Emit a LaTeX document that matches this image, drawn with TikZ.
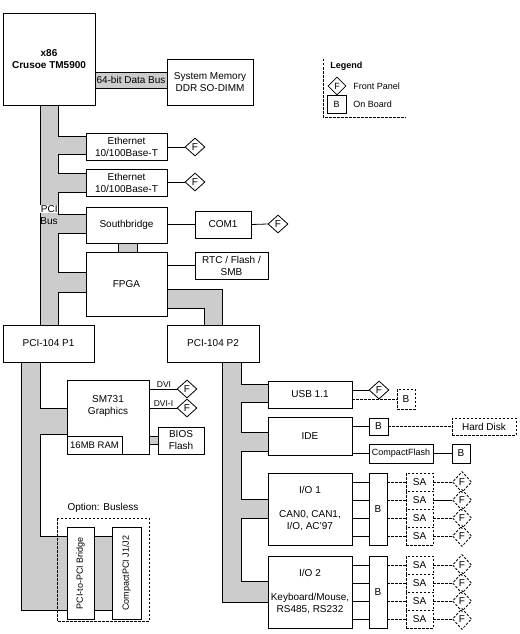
\documentclass[tikz,border=0pt]{standalone}
\usepackage{fontspec}
\setmainfont{Liberation Sans}
\usetikzlibrary{shapes.geometric}
\definecolor{busgray}{RGB}{204,204,204}
\newcommand\mybox[7][box]{\node[#1, minimum width={#5pt-#3pt}, minimum height={#6pt-#4pt}] (#2) at ({(#3+#5)/2},{(#4+#6)/2}) {#7};}
\begin{document}
\begin{tikzpicture}[x=1pt,y=-1pt, line width=0.8pt,
  txt/.style={font=\fontsize{10}{12}\selectfont},
  box/.style={draw, fill=white, inner sep=0pt, align=center, txt},
  dsh/.style={dash pattern=on 2.5pt off 1.5pt},
  dbox/.style={box, dsh},
  bus/.style={fill=busgray, draw=black},
  fp/.style={diamond, draw, fill=white, inner sep=0pt, minimum width=20pt, minimum height=18pt, txt},
  dfp/.style={diamond, draw, dsh, inner sep=0pt, minimum width=19pt, minimum height=21pt, txt},
  lbl/.style={inner sep=0pt, txt},
  small/.style={inner sep=0pt, font=\fontsize{8.5}{10}\selectfont},
]
\useasboundingbox (0,0) rectangle (519,634);
% ---------- buses
\path[bus] (95,72) rectangle (167,88);
\path[bus] (40,105) -- (58,105) -- (58,136) -- (86,136) -- (86,154) -- (58,154) -- (58,173) -- (86,173) -- (86,192) -- (58,192) -- (58,214) -- (86,214) -- (86,233) -- (58,233) -- (58,272) -- (86,272) -- (86,292) -- (58,292) -- (58,325) -- (40,325) -- cycle;
\path[bus] (118,243) rectangle (137,252);
\path[bus] (167,289) -- (222,289) -- (222,325) -- (204,325) -- (204,308) -- (167,308) -- cycle;
\path[bus] (21,362) -- (40,362) -- (40,408) -- (67,408) -- (67,434) -- (40,434) -- (40,536) -- (67,536) -- (67,610) -- (21,610) -- cycle;
\path[bus] (94,536) rectangle (112,610);
\path[bus] (149,436) rectangle (158,444);
\path[bus] (222,362) -- (241,362) -- (241,384) -- (268,384) -- (268,402) -- (241,402) -- (241,432) -- (268,432) -- (268,451) -- (241,451) -- (241,499) -- (268,499) -- (268,518) -- (241,518) -- (241,581) -- (268,581) -- (268,602) -- (222,602) -- cycle;
\node[lbl] (dbus) at (131,80) {64-bit Data Bus};
\node[lbl, anchor=west, fill=white, inner sep=0.5pt] (pcil) at (40,209) {PCI};
\node[lbl, anchor=west] (busl) at (40,221) {Bus};
% ---------- boxes
\mybox{cpu}{3}{13}{95}{105}{\bfseries x86\\\bfseries Crusoe TM5900}
\mybox{mem}{167}{59}{253}{105}{System Memory\\DDR SO-DIMM}
\mybox{eth1}{86}{133}{167}{160}{Ethernet\\10/100Base-T}
\mybox{eth2}{86}{169}{167}{196}{Ethernet\\10/100Base-T}
\mybox{sb}{86}{207}{167}{243}{Southbridge}
\mybox{com1}{195}{211}{251}{238}{COM1}
\mybox{rtc}{195}{252}{268}{279}{RTC / Flash /\\SMB}
\mybox{fpga}{86}{252}{167}{316}{FPGA}
\mybox{p1}{3}{325}{94}{362}{PCI-104 P1}
\mybox{p2}{167}{325}{259}{362}{PCI-104 P2}
\mybox{sm}{67}{380}{149}{454}{}
\node[lbl, align=center] (smt) at (108,406) {SM731\\Graphics};
\mybox[box, font=\fontsize{9.5}{11}\selectfont]{ram}{67}{436}{122}{454}{16MB RAM}
\mybox{bios}{158}{427}{204}{454}{BIOS\\Flash}
\mybox{usb}{268}{381}{352}{408}{USB 1.1}
\mybox{ide}{268}{417}{352}{455}{IDE}
\mybox{io1}{268}{473}{352}{545}{I/O 1\\[12pt]CAN0, CAN1,\\I/O, AC'97}
\mybox{io2}{268}{556}{352}{628}{I/O 2\\[12pt]Keyboard/Mouse,\\RS485, RS232}
\mybox{b1}{369}{473}{387}{545}{B}
\mybox{b2}{369}{556}{387}{628}{B}
\mybox[dbox]{usbB}{397}{389}{415}{409}{B}
\mybox{ideB}{369}{418}{388}{435}{B}
\mybox[dbox]{hd}{452}{418}{516}{435}{Hard Disk}
\mybox[box, font=\fontsize{9}{11}\selectfont]{cf}{369}{444}{433}{463}{CompactFlash}
\mybox{cfB}{452}{444}{470}{463}{B}
\mybox{bridge}{67}{527}{94}{619}{}
\mybox{cpci}{112}{527}{141}{619}{}
\node[lbl, rotate=90, font=\fontsize{9}{11}\selectfont] (bridget) at (80.5,573) {PCI-to-PCI Bridge};
\node[lbl, rotate=90, font=\fontsize{9}{11}\selectfont] (cpcit) at (126.5,573) {CompactPCI J1/J2};
\draw[dsh] (57,518) rectangle (149,621);
\node[lbl] (optl) at (103,508) {Option: Busless};
% ---------- front panel diamonds and wires
\node[fp] (fe1) at (195,147) {F};
\node[fp] (fe2) at (195,182) {F};
\node[fp] (fcom) at (278,224) {F};
\node[fp] (fdvi) at (187,389) {F};
\node[fp] (fdvii) at (187,408) {F};
\node[fp] (fu) at (379,390) {F};
\draw (eth1.east |- fe1.west) -- (fe1.west);
\draw (eth2.east |- fe2.west) -- (fe2.west);
\draw (sb.east |- com1.west) -- (com1.west);
\draw (com1.east) -- (fcom.west);
\draw (fpga.east |- rtc.west) -- (rtc.west);
\draw (sm.east |- fdvi.west) -- (fdvi.west);
\draw (sm.east |- fdvii.west) -- (fdvii.west);
\node[small, anchor=south] (dvil) at (164,388) {DVI};
\node[small, anchor=south] (dviil) at (163.5,407) {DVI-I};
\draw (usb.east |- fu.west) -- (fu.west);
\draw[dsh] (usb.east |- usbB.west) -- (usbB.west);
\draw (ide.east |- ideB.west) -- (ideB.west);
\draw[dsh] (ideB.east) -- (hd.west);
\draw (ide.east |- cf.west) -- (cf.west);
\draw (cf.east) -- (cfB.west);
% ---------- I/O rows
\foreach \k/\ya/\yb in {1/473/491, 2/491/509, 3/509/527, 4/527/545}{
  \mybox[dbox]{saa\k}{406}{\ya}{433}{\yb}{SA}
  \node[dfp] (fa\k) at (462,{(\ya+\yb)/2}) {F};
  \draw (io1.east |- saa\k.west) -- (b1.west |- saa\k.west);
  \draw[dsh] (b1.east |- saa\k.west) -- (saa\k.west);
}
\foreach \k/\ya/\yb in {1/556/574, 2/574/592, 3/592/610, 4/610/628}{
  \mybox[dbox]{sab\k}{406}{\ya}{433}{\yb}{SA}
  \node[dfp] (fb\k) at (462,{(\ya+\yb)/2}) {F};
  \draw (io2.east |- sab\k.west) -- (b2.west |- sab\k.west);
  \draw[dsh] (b2.east |- sab\k.west) -- (sab\k.west);
  \draw[dsh] (sab\k.east) -- (fb\k.west);
}
\draw[dsh] (saa1.east) -- (fa1.west);
\draw (saa2.east) -- (fa2.west);
\draw[dsh] (saa3.east) -- (fa3.west);
\draw[dsh] (saa4.east) -- (fa4.west);
% ---------- legend
\draw[dsh] (323,59) -- (323,117) -- (406,117);
\node[lbl, anchor=west, font=\fontsize{9}{11}\selectfont\bfseries] (legt) at (330,66) {Legend};
\node[fp, minimum width=18pt, minimum height=18pt, font=\fontsize{9}{11}\selectfont] (legf) at (337,86) {F};
\mybox[box, font=\fontsize{9}{11}\selectfont]{legb}{327}{95}{346}{113}{B}
\node[lbl, anchor=west, font=\fontsize{9}{11}\selectfont] (legft) at (353,86) {Front Panel};
\node[lbl, anchor=west, font=\fontsize{9}{11}\selectfont] (legbt) at (353,104) {On Board};
\end{tikzpicture}
\end{document}
